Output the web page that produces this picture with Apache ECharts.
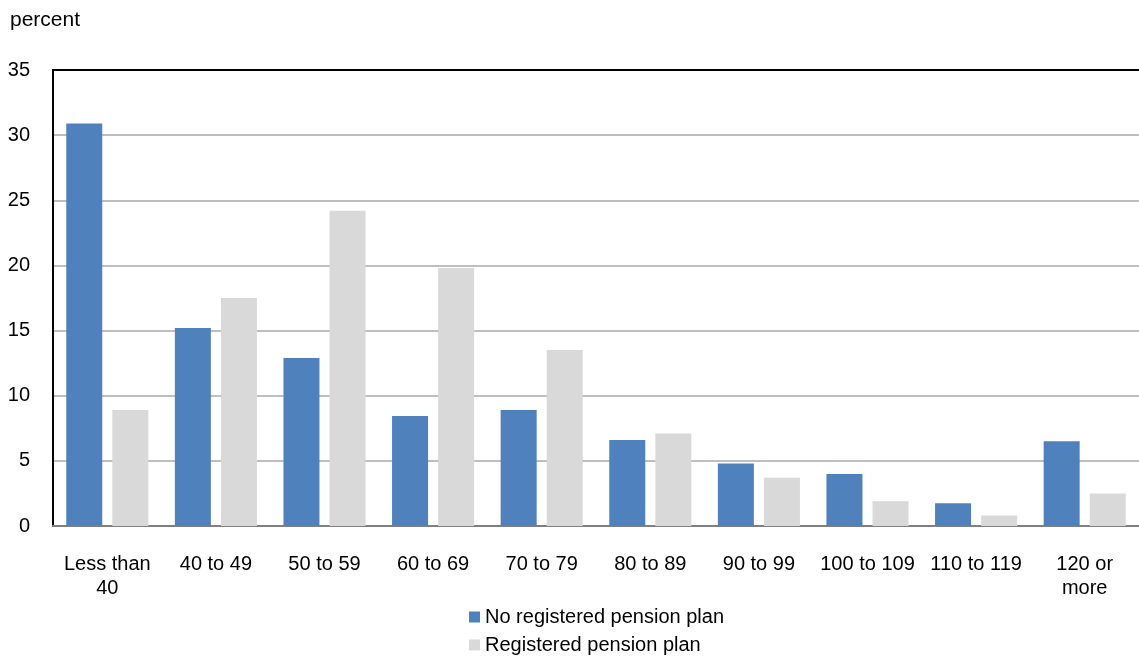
<!DOCTYPE html>
<html>
<head>
<meta charset="utf-8">
<script src="https://cdn.jsdelivr.net/npm/echarts@6/dist/echarts.min.js"></script>
<style>
  html, body { margin: 0; padding: 0; background: #fff; }
  #chart { width: 1139px; height: 658px; }
</style>
</head>
<body>
<div id="chart"></div>
<script>
// income replacement groups (percent)
var categories = ['Less than\n40', '40 to 49', '50 to 59', '60 to 69', '70 to 79',
                  '80 to 89', '90 to 99', '100 to 109', '110 to 119', '120 or\nmore'];
var noPlan  = [30.9, 15.2, 12.9, 8.45, 8.9, 6.6, 4.8, 4.0, 1.75, 6.5];
var withPlan = [8.9, 17.5, 24.2, 19.8, 13.5, 7.1, 3.7, 1.9, 0.8, 2.5];
var seriesNames = ['No registered pension plan', 'Registered pension plan'];
var yTicks = { min: 0, max: 35, interval: 5 };

var font = 'Liberation Sans, Arial, sans-serif';
var chart = echarts.init(document.getElementById('chart'));

// one legend per row, stacked like the original
function legendRow(name, top) {
    return {
        left: 464, top: top,
        itemWidth: 11, itemHeight: 11,
        icon: 'rect',
        textStyle: { fontSize: 20, color: '#000', fontFamily: font },
        data: [name]
    };
}

chart.setOption({
    animation: false,
    color: ['#4f81bd', '#d9d9d9'],
    textStyle: { fontFamily: font },
    title: {
        text: 'percent',
        left: 5, top: 5,
        textStyle: { fontSize: 21, fontWeight: 'normal', color: '#000', fontFamily: font }
    },
    grid: { left: 53, right: 0, top: 70, bottom: 132, containLabel: false },
    legend: [legendRow(seriesNames[0], 602), legendRow(seriesNames[1], 630)],
    xAxis: [{
        type: 'category',
        data: categories,
        axisLine: { lineStyle: { color: '#808080', width: 2 } },
        axisTick: { show: false },
        axisLabel: { color: '#000', fontSize: 20, margin: 26, lineHeight: 24, interval: 0 }
    }, {
        type: 'category',
        position: 'top',
        data: categories,
        axisLine: { lineStyle: { color: '#000', width: 2 } },
        axisTick: { show: false },
        axisLabel: { show: false }
    }],
    yAxis: {
        type: 'value',
        min: yTicks.min, max: yTicks.max, interval: yTicks.interval,
        axisLine: { show: true, lineStyle: { color: '#000', width: 2 } },
        axisTick: { show: false },
        axisLabel: { color: '#000', fontSize: 20, margin: 23 },
        splitLine: { lineStyle: { color: '#bfbfbf', width: 2 } }
    },
    series: [{
        name: seriesNames[0],
        type: 'bar',
        data: noPlan,
        barWidth: 36,
        barGap: '28%'
    }, {
        name: seriesNames[1],
        type: 'bar',
        data: withPlan,
        barWidth: 36,
        barGap: '28%'
    }]
});
</script>
</body>
</html>
